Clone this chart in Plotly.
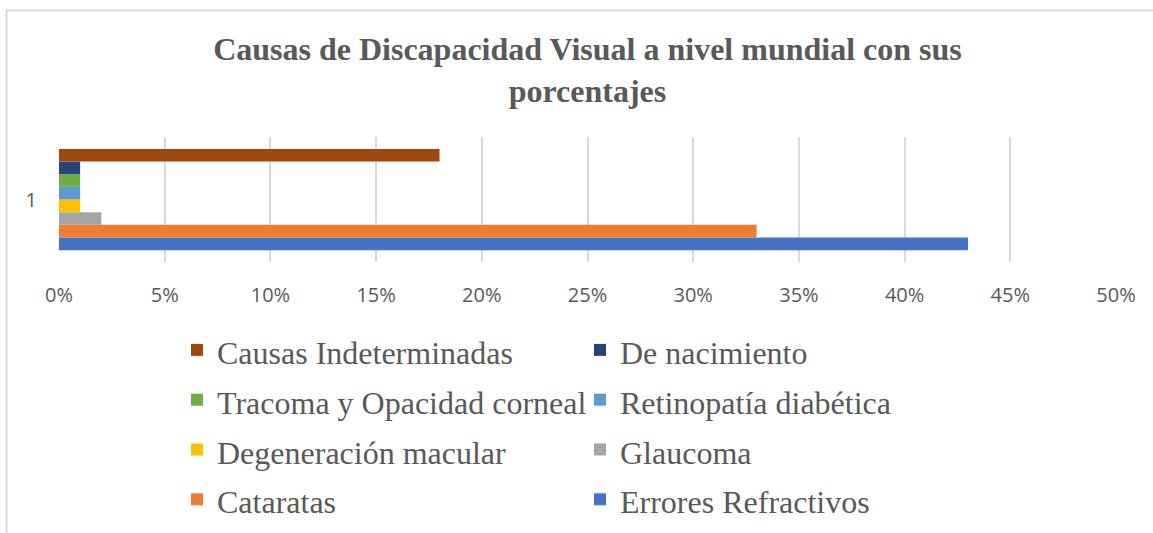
import plotly.graph_objects as go

category = ["1"]
series_names = [
    "Errores Refractivos",
    "Cataratas",
    "Glaucoma",
    "Degeneración macular",
    "Retinopatía diabética",
    "Tracoma y Opacidad corneal",
    "De nacimiento",
    "Causas Indeterminadas",
]
series_values = [43, 33, 2, 1, 1, 1, 1, 18]
series_colors = ["#4472C4", "#ED7D31", "#A5A5A5", "#FFC000",
                 "#5B9BD5", "#70AD47", "#264478", "#9E480E"]
x_ticks = [0, 5, 10, 15, 20, 25, 30, 35, 40, 45, 50]
x_tick_labels = ["0%", "5%", "10%", "15%", "20%", "25%", "30%", "35%", "40%", "45%", "50%"]

W, H = 1153, 533
L, R, T, B = 59, 37, 137, 271
pw, ph = W - L - R, H - T - B

def px(x):
    return (x - L) / pw

def py(y):
    return (H - B - y) / ph

fig = go.Figure()
for name, val, col in zip(series_names, series_values, series_colors):
    fig.add_trace(go.Bar(
        y=category, x=[val], name='<span style="font-size:32px">' + name + '</span>',
        orientation="h", marker=dict(color=col, line=dict(width=0)),
    ))

fig.update_layout(
    width=W, height=H,
    margin=dict(l=L, r=R, t=T, b=B, autoexpand=False),
    paper_bgcolor="white", plot_bgcolor="white",
    barmode="group", bargap=0.19, bargroupgap=0,
    title=dict(
        text="Causas de Discapacidad Visual a nivel mundial con sus<br>porcentajes",
        x=0.5095, xanchor="center", xref="container",
        y=1 - 60 / H, yanchor="middle", yref="container",
        font=dict(family="Liberation Serif", size=32, color="#595959", weight="bold"),
    ),
    xaxis=dict(
        range=[0, 50], tickvals=x_ticks, ticktext=x_tick_labels,
        showgrid=True, gridcolor="#d9d9d9", gridwidth=1.5,
        zeroline=False, showline=False, ticks="",
        tickfont=dict(family="Open Sans", size=20, color="#595959"),
        ticklabelstandoff=19,
    ),
    yaxis=dict(
        type="category", range=[-0.5, 0.5], showgrid=False, zeroline=False,
        showline=False, ticks="",
        tickfont=dict(family="Open Sans", size=20, color="#595959"),
        ticklabelstandoff=21,
    ),
    legend=dict(
        orientation="h", traceorder="reversed",
        x=px(177), xanchor="left", y=py(320), yanchor="top",
        entrywidth=358, entrywidthmode="pixels",
        font=dict(family="Liberation Serif", size=36, color="#595959"),
        bgcolor="rgba(0,0,0,0)",
    ),
    shapes=[
        dict(type="line", xref="paper", yref="paper",
             x0=px(6), x1=px(1153), y0=py(10.5), y1=py(10.5),
             line=dict(color="#d9d9d9", width=2)),
        dict(type="line", xref="paper", yref="paper",
             x0=px(6.5), x1=px(6.5), y0=py(10), y1=py(533),
             line=dict(color="#d9d9d9", width=2)),
    ],
)

fig.write_html("out.html", config={"displayModeBar": False},
               post_script="document.body.style.margin='0';")
